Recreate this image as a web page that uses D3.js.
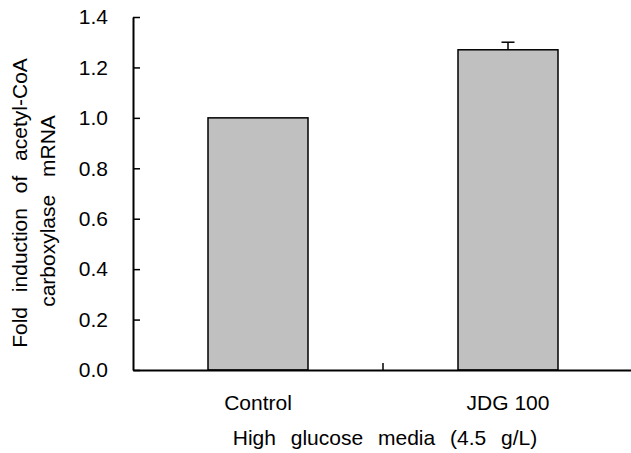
<!DOCTYPE html>
<html>
<head>
<meta charset="utf-8">
<script src="https://cdn.jsdelivr.net/npm/d3@7"></script>
<style>
  body { margin: 0; background: #fff; }
  text { font-family: "Liberation Sans", Arial, sans-serif; fill: #000; }
</style>
</head>
<body>
<div id="chart"></div>
<script>
var groups = ["Control", "JDG 100"];
var foldValues = [1.0, 1.27];
var errValues = [0, 0.03];
var yTicks = [0, 0.2, 0.4, 0.6, 0.8, 1.0, 1.2, 1.4];

var data = groups.map(function(g, i) {
  return { group: g, value: foldValues[i], err: errValues[i] };
});

var fontSize = 21;

var svg = d3.select("#chart").append("svg")
  .attr("width", 631).attr("height", 453);

var margin = {top: 17, right: -2, bottom: 83, left: 133},
    width = 631 - margin.left - margin.right,
    height = 453 - margin.top - margin.bottom;

var g = svg.append("g")
  .attr("transform", "translate(" + margin.left + "," + margin.top + ")");

var x = d3.scaleBand()
  .domain(groups)
  .range([0, width])
  .padding(0);

var y = d3.scaleLinear()
  .domain([0, 1.4])
  .range([height, 0]);

var barW = x.bandwidth() * 0.4;

// bars
g.append("g")
  .selectAll("rect")
  .data(data)
  .enter().append("rect")
    .attr("x", function(d) { return x(d.group) + (x.bandwidth() - barW) / 2; })
    .attr("y", function(d) { return y(d.value); })
    .attr("width", barW)
    .attr("height", function(d) { return y(0) - y(d.value); })
    .attr("fill", "#c0c0c0")
    .attr("stroke", "#000")
    .attr("stroke-width", 1.5);

// error bars (upper only)
var eb = g.append("g")
  .selectAll("g")
  .data(data.filter(function(d) { return d.err > 0; }))
  .enter().append("g")
    .attr("stroke", "#000")
    .attr("stroke-width", 1.5);

eb.append("line")
  .attr("x1", function(d) { return x(d.group) + x.bandwidth() / 2; })
  .attr("x2", function(d) { return x(d.group) + x.bandwidth() / 2; })
  .attr("y1", function(d) { return y(d.value); })
  .attr("y2", function(d) { return y(d.value + d.err); });

eb.append("line")
  .attr("x1", function(d) { return x(d.group) + x.bandwidth() / 2 - 6.5; })
  .attr("x2", function(d) { return x(d.group) + x.bandwidth() / 2 + 6.5; })
  .attr("y1", function(d) { return y(d.value + d.err); })
  .attr("y2", function(d) { return y(d.value + d.err); });

// y axis
var yAxis = g.append("g")
  .call(d3.axisLeft(y)
    .tickValues(yTicks)
    .tickFormat(d3.format(".1f"))
    .tickSizeInner(-7)
    .tickSizeOuter(0)
    .tickPadding(25));

yAxis.select(".domain").attr("stroke-width", 2);
yAxis.selectAll(".tick line").attr("stroke-width", 1.5);
yAxis.selectAll("text").attr("font-size", fontSize).attr("font-family", "Liberation Sans, Arial, sans-serif");

// x axis
var xAxis = g.append("g")
  .attr("transform", "translate(0," + height + ")")
  .call(d3.axisBottom(x)
    .tickSizeInner(0)
    .tickSizeOuter(0)
    .tickPadding(25));

xAxis.select(".domain").attr("stroke-width", 2);
xAxis.selectAll("text").attr("font-size", fontSize).attr("font-family", "Liberation Sans, Arial, sans-serif");

// divider tick between groups
g.append("line")
  .attr("x1", x(groups[1])).attr("x2", x(groups[1]))
  .attr("y1", height).attr("y2", height - 7)
  .attr("stroke", "#000").attr("stroke-width", 1.5);

// x title
svg.append("text")
  .attr("x", 385)
  .attr("y", 445)
  .attr("text-anchor", "middle")
  .attr("font-size", fontSize)
  .attr("word-spacing", "9px")
  .text("High glucose media (4.5 g/L)");

// y title, two lines
svg.append("text")
  .attr("transform", "translate(27,203) rotate(-90)")
  .attr("text-anchor", "middle")
  .attr("font-size", fontSize)
  .attr("word-spacing", "9px")
  .text("Fold induction of acetyl-CoA");

svg.append("text")
  .attr("transform", "translate(55,211) rotate(-90)")
  .attr("text-anchor", "middle")
  .attr("font-size", fontSize)
  .attr("word-spacing", "12px")
  .text("carboxylase mRNA");
</script>
</body>
</html>
